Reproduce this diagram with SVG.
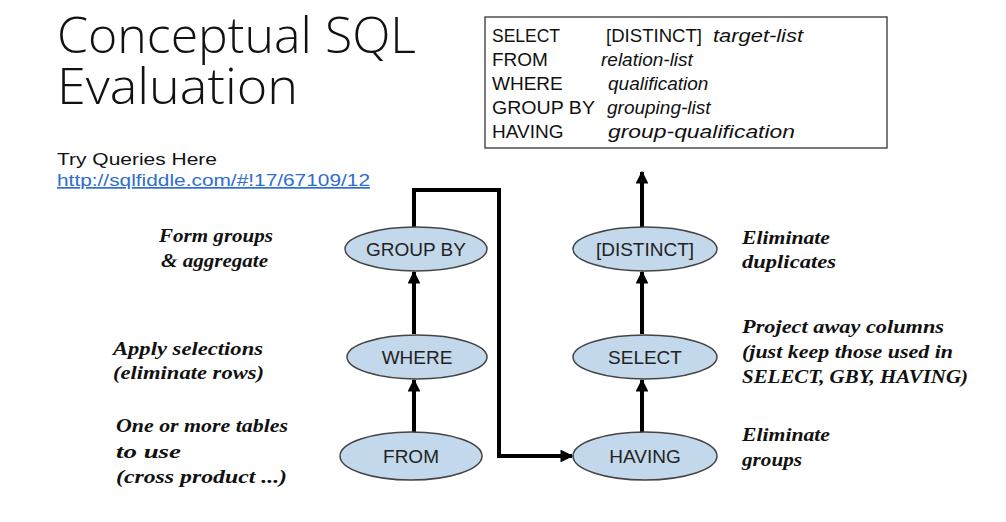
<svg xmlns="http://www.w3.org/2000/svg" width="1006" height="522" viewBox="0 0 1006 522">
<defs>
<marker id="ah" viewBox="0 0 10 10" refX="9" refY="5" markerWidth="3.2" markerHeight="3.2" orient="auto" markerUnits="strokeWidth">
<path d="M0,0 L10,5 L0,10 Z" fill="#000"/>
</marker>
<style>
.sans{font-family:"Liberation Sans","DejaVu Sans",sans-serif;fill:#111}
.title{font-family:"Open Sans","Liberation Sans",sans-serif;font-weight:300;font-size:49px}
.box{font-size:19px}
.it{font-style:italic}
.node ellipse{fill:#c4d8ec;stroke:#444;stroke-width:1.5}
.node text{font-family:"Liberation Sans","DejaVu Sans",sans-serif;font-size:19px;fill:#222;text-anchor:middle}
.lbl{font-family:"Liberation Serif","DejaVu Serif",serif;font-style:italic;font-weight:bold;font-size:19.5px;fill:#111}
.conn{fill:none;stroke:#000;stroke-width:4}
</style>
</defs>
<rect width="1006" height="522" fill="#fff"/>
<text class="sans title"><tspan x="57" y="53" textLength="359" lengthAdjust="spacingAndGlyphs">Conceptual SQL</tspan><tspan x="57" y="104" textLength="241" lengthAdjust="spacingAndGlyphs">Evaluation</tspan></text>
<text class="sans" x="57" y="165" font-size="17" textLength="160" lengthAdjust="spacingAndGlyphs">Try Queries Here</text>
<text class="sans" x="57" y="186" font-size="17" style="fill:#2f6ecb" text-decoration="underline" textLength="313" lengthAdjust="spacingAndGlyphs">http://sqlfiddle.com/#!17/67109/12</text>
<g id="syntax">
<rect x="485" y="17" width="402" height="131" fill="#fff" stroke="#333" stroke-width="1.3"/>
<text class="sans box" x="492" y="42" textLength="68" lengthAdjust="spacingAndGlyphs">SELECT</text>
<text class="sans box" x="606" y="42" textLength="96" lengthAdjust="spacingAndGlyphs">[DISTINCT]</text>
<text class="sans box it" x="713" y="42" textLength="90" lengthAdjust="spacingAndGlyphs">target-list</text>
<text class="sans box" x="492" y="66">FROM</text>
<text class="sans box it" x="601" y="66">relation-list</text>
<text class="sans box" x="492" y="90">WHERE</text>
<text class="sans box it" x="608" y="90">qualification</text>
<text class="sans box" x="492" y="114" textLength="103" lengthAdjust="spacingAndGlyphs">GROUP BY</text>
<text class="sans box it" x="607" y="114">grouping-list</text>
<text class="sans box" x="492" y="138">HAVING</text>
<text class="sans box it" x="608" y="138" textLength="187" lengthAdjust="spacingAndGlyphs">group-qualification</text>
</g>
<g id="connectors">
<line class="conn" x1="414" y1="432" x2="414" y2="380" marker-end="url(#ah)"/>
<line class="conn" x1="414" y1="334" x2="414" y2="272" marker-end="url(#ah)"/>
<polyline class="conn" points="414,227 414,190 499,190 499,456 572,456" marker-end="url(#ah)"/>
<line class="conn" x1="642" y1="432" x2="642" y2="380" marker-end="url(#ah)"/>
<line class="conn" x1="642" y1="334" x2="642" y2="272" marker-end="url(#ah)"/>
<line class="conn" x1="642" y1="227" x2="642" y2="172" marker-end="url(#ah)"/>
</g>
<g id="node-groupby" class="node"><ellipse cx="416" cy="249" rx="71" ry="22"/><text x="416" y="256">GROUP BY</text></g>
<g id="node-where" class="node"><ellipse cx="417" cy="357" rx="70" ry="22"/><text x="417" y="364">WHERE</text></g>
<g id="node-from" class="node"><ellipse cx="411" cy="456" rx="71" ry="24"/><text x="411" y="463">FROM</text></g>
<g id="node-distinct" class="node"><ellipse cx="645" cy="249" rx="72" ry="22"/><text x="645" y="256">[DISTINCT]</text></g>
<g id="node-select" class="node"><ellipse cx="645" cy="357" rx="72" ry="22"/><text x="645" y="364">SELECT</text></g>
<g id="node-having" class="node"><ellipse cx="645" cy="456" rx="72" ry="24"/><text x="645" y="463">HAVING</text></g>
<g id="labels">
<text class="lbl" x="159" y="242" textLength="114" lengthAdjust="spacingAndGlyphs">Form groups</text>
<text class="lbl" x="161" y="267" textLength="107" lengthAdjust="spacingAndGlyphs">&amp; aggregate</text>
<text class="lbl" x="113" y="355" textLength="150" lengthAdjust="spacingAndGlyphs">Apply selections</text>
<text class="lbl" x="113" y="379" textLength="151" lengthAdjust="spacingAndGlyphs">(eliminate rows)</text>
<text class="lbl" x="116" y="432" textLength="172" lengthAdjust="spacingAndGlyphs">One or more tables</text>
<text class="lbl" x="116" y="458" textLength="65" lengthAdjust="spacingAndGlyphs">to use</text>
<text class="lbl" x="116" y="483" textLength="171" lengthAdjust="spacingAndGlyphs">(cross product ...)</text>
<text class="lbl" x="742" y="244" textLength="88" lengthAdjust="spacingAndGlyphs">Eliminate</text>
<text class="lbl" x="742" y="268" textLength="94" lengthAdjust="spacingAndGlyphs">duplicates</text>
<text class="lbl" x="742" y="333" textLength="202" lengthAdjust="spacingAndGlyphs">Project away columns</text>
<text class="lbl" x="742" y="358" textLength="211" lengthAdjust="spacingAndGlyphs">(just keep those used in</text>
<text class="lbl" x="742" y="383" textLength="226" lengthAdjust="spacingAndGlyphs">SELECT, GBY, HAVING)</text>
<text class="lbl" x="742" y="441" textLength="88" lengthAdjust="spacingAndGlyphs">Eliminate</text>
<text class="lbl" x="742" y="466" textLength="60" lengthAdjust="spacingAndGlyphs">groups</text>
</g>
</svg>
